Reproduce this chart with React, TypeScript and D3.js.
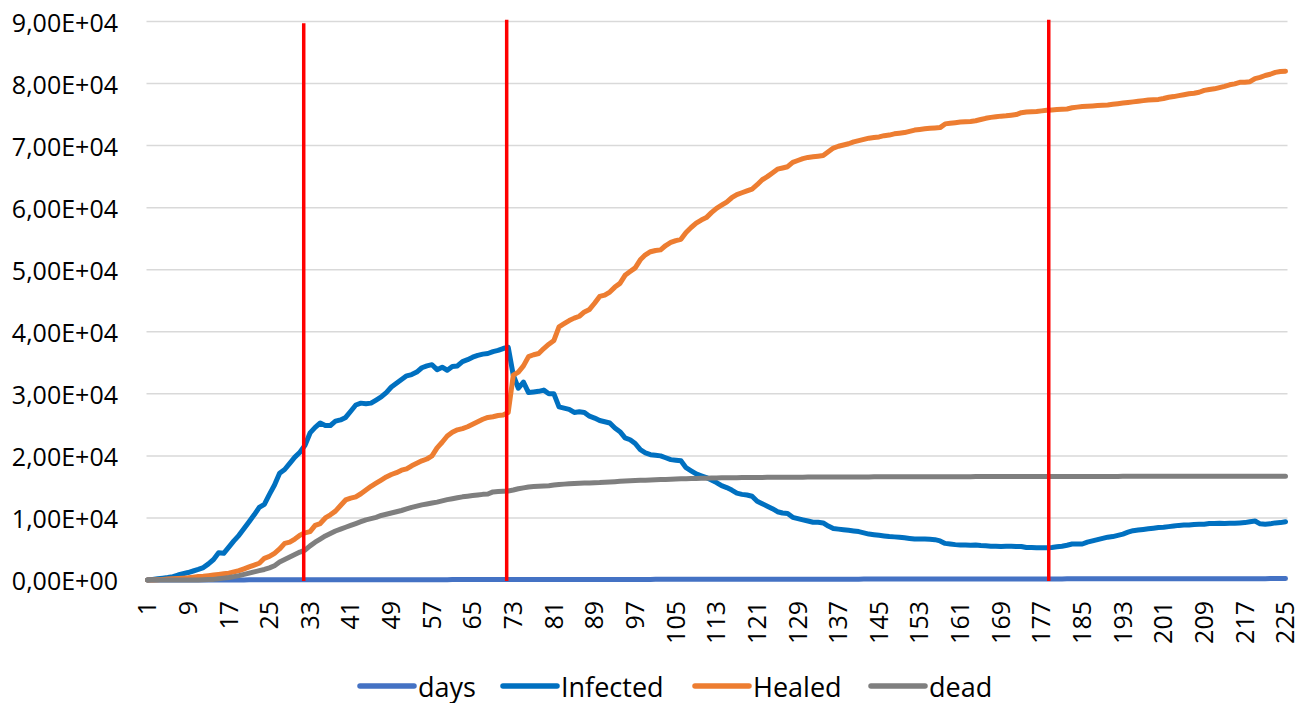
import React from 'react';
import * as d3 from 'd3';

// x categories: day numbers 1..225
const categories: number[] = d3.range(1, 226);
// "days" series equals the day number
const days: number[] = categories.slice();

const infected: number[] = [
  0, 100, 200, 300, 400, 550, 800, 1000, 1200, 1450,
  1700, 2000, 2600, 3300, 4400, 4300, 5300, 6300, 7200, 8300,
  9400, 10500, 11700, 12200, 13800, 15300, 17200, 17800, 18800, 19800,
  20600, 21700, 23700, 24600, 25300, 24900, 24900, 25600, 25800, 26200,
  27200, 28200, 28500, 28400, 28500, 29000, 29500, 30200, 31100, 31700,
  32300, 32900, 33100, 33500, 34200, 34500, 34700, 33900, 34300, 33800,
  34400, 34500, 35200, 35500, 35900, 36200, 36400, 36500, 36800, 37000,
  37300, 37500, 33000, 30900, 31900, 30200, 30300, 30400, 30600, 30000,
  30000, 27900, 27700, 27500, 27000, 27100, 27000, 26400, 26100, 25700,
  25500, 25300, 24500, 23900, 22900, 22600, 22000, 21000, 20500, 20200,
  20100, 20000, 19700, 19400, 19300, 19200, 18100, 17600, 17100, 16800,
  16500, 16100, 15700, 15200, 14900, 14500, 14000, 13800, 13700, 13500,
  12700, 12300, 11900, 11500, 11000, 10800, 10700, 10100, 9900, 9700,
  9500, 9300, 9300, 9200, 8700, 8300, 8200, 8100, 8000, 7900,
  7800, 7600, 7400, 7300, 7200, 7100, 7000, 6950, 6900, 6800,
  6700, 6600, 6600, 6600, 6550, 6500, 6300, 5900, 5800, 5700,
  5650, 5650, 5600, 5650, 5550, 5500, 5450, 5450, 5400, 5450,
  5450, 5400, 5400, 5250, 5250, 5200, 5200, 5200, 5250, 5350,
  5450, 5600, 5800, 5800, 5800, 6100, 6300, 6500, 6700, 6900,
  7000, 7200, 7400, 7700, 7950, 8050, 8150, 8250, 8350, 8450,
  8500, 8600, 8700, 8800, 8850, 8850, 8950, 9000, 9000, 9100,
  9100, 9150, 9100, 9150, 9150, 9200, 9250, 9400, 9500, 9050,
  9000, 9050, 9200, 9250, 9400,
];

const healed: number[] = [
  0, 0, 50, 100, 150, 200, 250, 300, 350, 450,
  550, 600, 700, 800, 900, 1000, 1100, 1300, 1500, 1800,
  2100, 2400, 2700, 3500, 3800, 4300, 5000, 5900, 6100, 6600,
  7200, 7600, 7800, 8800, 9100, 10000, 10500, 11100, 12000, 12900,
  13200, 13400, 13900, 14500, 15100, 15600, 16100, 16600, 17000, 17300,
  17700, 17900, 18400, 18800, 19200, 19500, 20000, 21300, 22200, 23200,
  23800, 24200, 24400, 24700, 25100, 25500, 25900, 26200, 26300, 26500,
  26600, 27000, 33000, 33500, 34500, 36000, 36300, 36500, 37300, 38000,
  38600, 40800, 41300, 41800, 42200, 42500, 43200, 43600, 44600, 45700,
  45900, 46400, 47200, 47800, 49100, 49700, 50300, 51600, 52400, 52900,
  53100, 53200, 53900, 54400, 54700, 54900, 56000, 56800, 57500, 58000,
  58400, 59200, 59900, 60400, 60900, 61600, 62100, 62400, 62700, 63000,
  63700, 64500, 65000, 65600, 66200, 66400, 66600, 67300, 67600, 67900,
  68100, 68200, 68300, 68400, 69000, 69600, 69900, 70100, 70300, 70600,
  70800, 71000, 71200, 71300, 71400, 71600, 71700, 71900, 72000, 72100,
  72300, 72500, 72600, 72700, 72800, 72850, 72900, 73500, 73600, 73700,
  73800, 73850, 73900, 74000, 74200, 74400, 74550, 74650, 74750, 74800,
  74900, 75000, 75300, 75400, 75450, 75500, 75600, 75700, 75750, 75800,
  75850, 75900, 76100, 76200, 76300, 76350, 76400, 76450, 76500, 76550,
  76650, 76750, 76850, 76950, 77050, 77150, 77250, 77350, 77400, 77450,
  77600, 77800, 77900, 78050, 78200, 78350, 78450, 78600, 78900, 79050,
  79150, 79350, 79550, 79800, 79950, 80200, 80200, 80300, 80800, 81000,
  81300, 81500, 81800, 81950, 82000,
];

const dead: number[] = [
  0, 0, 0, 0, 0, 0, 0, 0, 0, 0,
  0, 50, 80, 100, 200, 300, 400, 550, 700, 900,
  1100, 1300, 1500, 1700, 1950, 2300, 2900, 3300, 3700, 4100,
  4500, 4800, 5500, 6100, 6600, 7100, 7500, 7900, 8200, 8500,
  8800, 9100, 9400, 9700, 9900, 10100, 10400, 10600, 10800, 11000,
  11200, 11450, 11700, 11900, 12100, 12250, 12400, 12550, 12750, 12950,
  13100, 13250, 13400, 13500, 13600, 13700, 13800, 13850, 14200, 14250,
  14300, 14350, 14500, 14700, 14850, 15000, 15050, 15100, 15150, 15200,
  15300, 15400, 15450, 15500, 15550, 15600, 15620, 15650, 15680, 15700,
  15750, 15800, 15850, 15900, 15950, 16000, 16030, 16060, 16090, 16120,
  16150, 16180, 16210, 16240, 16270, 16300, 16320, 16340, 16360, 16380,
  16400, 16420, 16440, 16460, 16470, 16480, 16490, 16500, 16510, 16520,
  16530, 16530, 16540, 16540, 16550, 16550, 16560, 16560, 16570, 16570,
  16580, 16580, 16580, 16590, 16590, 16590, 16600, 16600, 16600, 16610,
  16610, 16610, 16610, 16620, 16620, 16620, 16620, 16630, 16630, 16630,
  16630, 16630, 16640, 16640, 16640, 16640, 16640, 16650, 16650, 16650,
  16650, 16650, 16650, 16660, 16660, 16660, 16660, 16660, 16660, 16670,
  16670, 16670, 16670, 16670, 16670, 16670, 16680, 16680, 16680, 16680,
  16680, 16680, 16680, 16680, 16690, 16690, 16690, 16690, 16690, 16690,
  16690, 16690, 16700, 16700, 16700, 16700, 16700, 16700, 16700, 16700,
  16700, 16710, 16710, 16710, 16710, 16710, 16710, 16710, 16710, 16710,
  16710, 16720, 16720, 16720, 16720, 16720, 16720, 16720, 16720, 16720,
  16720, 16730, 16730, 16730, 16730,
];

const yTicks: number[] = [0, 10000, 20000, 30000, 40000, 50000, 60000, 70000, 80000, 90000];
const markerDays: number[] = [31.75, 71.7, 178.4];
const markerTops: number[] = [89700, 90300, 90300];
const seriesNames: string[] = ['days', 'Infected', 'Healed', 'dead'];
const seriesColors: string[] = ['#4472C4', '#0070C0', '#ED7D31', '#7F7F7F'];
const seriesData: number[][] = [days, infected, healed, dead];

function sci(v: number): string {
  if (v === 0) return '0,00E+00';
  const e = Math.floor(Math.log10(Math.abs(v)));
  const m = v / Math.pow(10, e);
  const sign = e < 0 ? '-' : '+';
  return m.toFixed(2).replace('.', ',') + 'E' + sign + String(Math.abs(e)).padStart(2, '0');
}

export default function App() {
  const W = 1311;
  const H = 703;
  const left = 147.5;
  const right = 1285.5;
  const top = 21.5;
  const bottom = 580;
  const font = "'Open Sans', 'Noto Sans', sans-serif";

  const x = d3.scaleLinear().domain([1, 225]).range([left, right]);
  const y = d3.scaleLinear().domain([0, 90000]).range([bottom, top]);

  const line = d3
    .line<number>()
    .x((_, i) => x(categories[i]))
    .y((d) => y(d));

  const xLabels = categories.filter((c) => (c - 1) % 8 === 0);
  const legendX = [360, 503, 695, 871];

  return (
    <svg
      width={W}
      height={H}
      style={{ position: 'absolute', left: 0, top: 0, background: '#fff' }}
      fontFamily={font}
    >
      <rect x={0} y={0} width={W} height={H} fill="#fff" />
      {yTicks.map((t) => (
        <g key={'g' + t}>
          <line x1={left - 1} x2={right + 2} y1={y(t)} y2={y(t)} stroke="#D9D9D9" strokeWidth={1.5} />
          <text
            x={118}
            y={y(t)}
            textAnchor="end"
            dominantBaseline="central"
            fontSize={25}
            fill="#000"
          >
            {sci(t)}
          </text>
        </g>
      ))}
      {xLabels.map((c) => (
        <text
          key={'x' + c}
          transform={`translate(${x(c)},601) rotate(-90)`}
          textAnchor="end"
          dy="0.35em"
          fontSize={25}
          fill="#000"
        >
          {c}
        </text>
      ))}
      {seriesData.map((s, i) => (
        <path
          key={seriesNames[i]}
          d={line(s) || ''}
          fill="none"
          stroke={seriesColors[i]}
          strokeWidth={5}
          strokeLinejoin="round"
          strokeLinecap="round"
        />
      ))}
      {markerDays.map((m, i) => (
        <line
          key={'m' + i}
          x1={x(m)}
          x2={x(m)}
          y1={y(markerTops[i])}
          y2={y(0) + 1}
          stroke="#FF0000"
          strokeWidth={3.5}
        />
      ))}
      {seriesNames.map((n, i) => (
        <g key={'l' + n}>
          <line
            x1={legendX[i]}
            x2={legendX[i] + 54}
            y1={686}
            y2={686}
            stroke={seriesColors[i]}
            strokeWidth={5.5}
            strokeLinecap="round"
          />
          <text
            x={legendX[i] + 58}
            y={686}
            dominantBaseline="central"
            fontSize={27}
            fill="#000"
          >
            {n}
          </text>
        </g>
      ))}
    </svg>
  );
}
